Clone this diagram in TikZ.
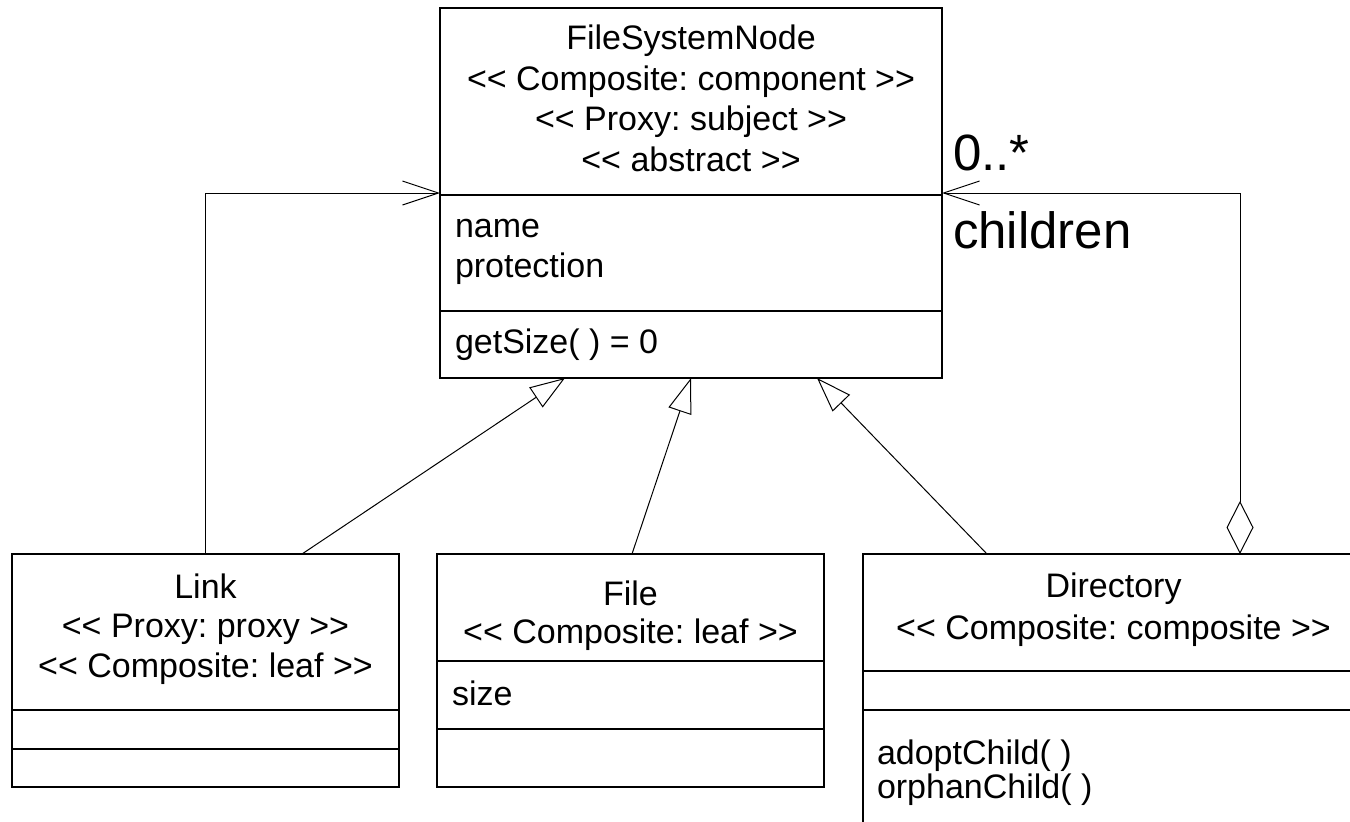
\documentclass[tikz,border=0pt]{standalone}
\usepackage{fontspec}
\setmainfont{Liberation Sans}
\usetikzlibrary{arrows.meta}
\newcommand\opnst{<\kern0pt<}
\newcommand\clsst{>\kern0pt>}
\frenchspacing
\begin{document}
\frenchspacing
\begin{tikzpicture}[x=1pt,y=-1pt,
  every node/.style={inner sep=0pt,outer sep=0pt},
  cls/.style={draw=black,line width=1.2pt,rectangle},
  txt/.style={font=\fontsize{34}{40}\selectfont,anchor=base},
  ltxt/.style={font=\fontsize{34}{40}\selectfont,anchor=base west},
  big/.style={font=\fontsize{51}{60}\selectfont,anchor=base west},
  sep/.style={line width=1.2pt},
  gen/.style={line width=1pt,-{Triangle[open,length=35pt,width=24pt]}},
  assoc/.style={line width=1pt,-{Straight Barb[length=36pt,width=24pt]}},
  aggr/.style={line width=1pt,{Diamond[open,length=53pt,width=27pt]}-{Straight Barb[length=36pt,width=24pt]}}]
\useasboundingbox (0,0) rectangle (1350,822);
% FileSystemNode
\node[cls,minimum width=502pt,minimum height=370pt] (fsn) at (691,193) {};
\draw[sep] (440,195) -- (942,195);
\draw[sep] (440,311) -- (942,311);
\node[txt] (fsn1) at (691,49) {FileSystemNode};
\node[txt] (fsn2) at (691,90) {\opnst{} Composite: component \clsst};
\node[txt] (fsn3) at (691,130) {\opnst{} Proxy: subject \clsst};
\node[txt] (fsn4) at (691,171) {\opnst{} abstract \clsst};
\node[ltxt] (fsna1) at (455,237) {name};
\node[ltxt] (fsna2) at (455,277) {protection};
\node[ltxt] (fsnm1) at (455,353) {getSize( ) = 0};
% Link
\node[cls,minimum width=387pt,minimum height=233pt] (link) at (205.5,670.5) {};
\draw[sep] (12,710) -- (399,710);
\draw[sep] (12,749) -- (399,749);
\node[txt] (link1) at (205.5,598) {Link};
\node[txt] (link2) at (205.5,637) {\opnst{} Proxy: proxy \clsst};
\node[txt] (link3) at (205.5,677) {\opnst{} Composite: leaf \clsst};
% File
\node[cls,minimum width=387pt,minimum height=233pt] (file) at (630.5,670.5) {};
\draw[sep] (437,661) -- (824,661);
\draw[sep] (437,729) -- (824,729);
\node[txt] (file1) at (630.5,605) {File};
\node[txt] (file2) at (630.5,643) {\opnst{} Composite: leaf \clsst};
\node[ltxt] (filea1) at (452,705) {size};
% Directory (extends beyond the picture)
\node[cls,minimum width=501pt,minimum height=281pt] (dir) at (1113.5,694.5) {};
\draw[sep] (863,671) -- (1364,671);
\draw[sep] (863,710) -- (1364,710);
\node[txt] (dir1) at (1113.5,597) {Directory};
\node[txt] (dir2) at (1113.5,639) {\opnst{} Composite: composite \clsst};
\node[ltxt] (dirm1) at (877,764) {adoptChild( )};
\node[ltxt] (dirm2) at (877,798) {orphanChild( )};
% connector end points
\coordinate (g1s) at (302,554);
\coordinate (g1e) at (565,378);
\coordinate (g2s) at (632,554);
\coordinate (g2e) at (691,378);
\coordinate (g3s) at (987,554);
\coordinate (g3e) at (817,378);
\coordinate (linkTop) at (205,554);
\coordinate (dirTop) at (1240,554);
\draw[gen] (g1s) -- (g1e);
\draw[gen] (g2s) -- (g2e);
\draw[gen] (g3s) -- (g3e);
\draw[assoc] (linkTop) |- (fsn.west);
\draw[aggr] (dirTop) |- (fsn.east);
\node[big] (mult) at (953,170) {0..*};
\node[big] (role) at (953,248) {children};
\end{tikzpicture}
\end{document}
